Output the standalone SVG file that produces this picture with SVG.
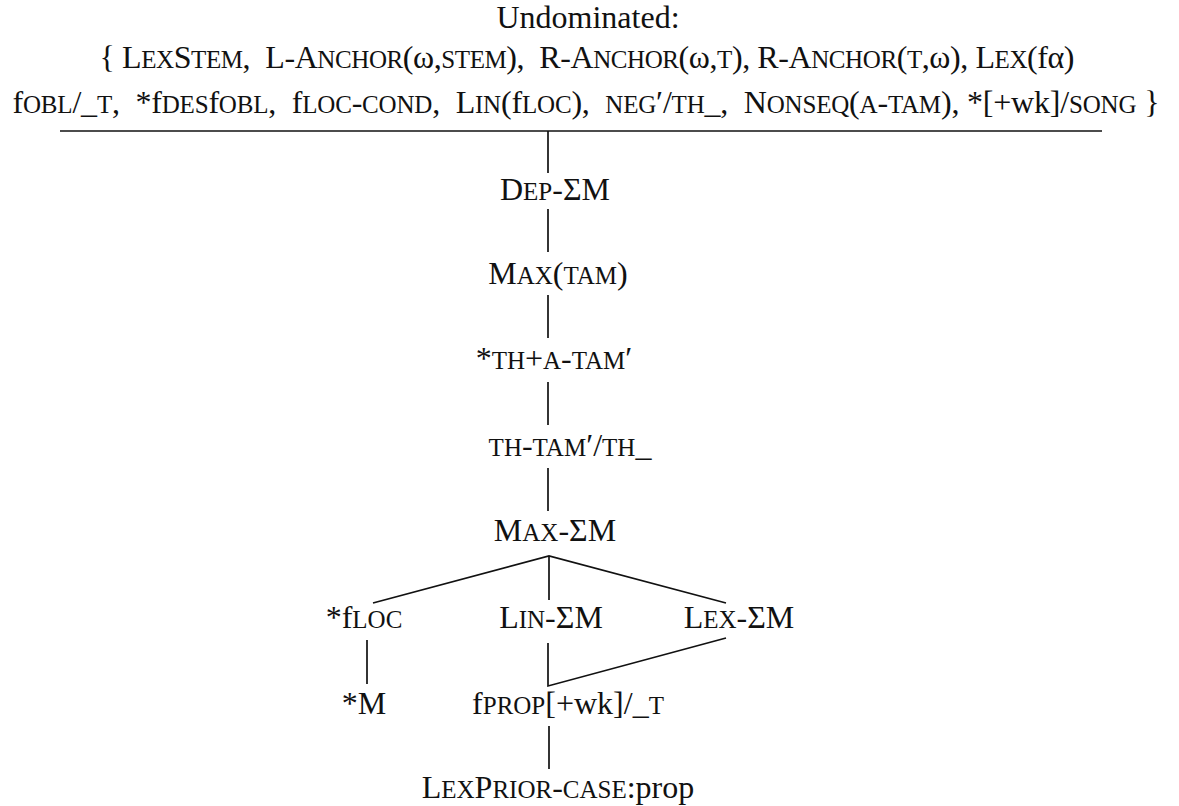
<svg xmlns="http://www.w3.org/2000/svg" width="1179" height="806" viewBox="0 0 1179 806">
<style>
text{font-family:"Liberation Serif","Times New Roman",serif;font-size:32px;fill:#111;white-space:pre}
.c{text-anchor:middle}
.s{font-variant:small-caps;font-size:35px}
.ln{stroke:#111;stroke-width:1.7;fill:none;stroke-linecap:butt}
</style>
<rect width="1179" height="806" fill="#fff"/>
<g id="header">
<text class="c" x="588" y="28">Undominated:</text>
<text class="c" x="587" y="68" textLength="975" lengthAdjust="spacing">{ L<tspan class="s">ex</tspan>S<tspan class="s">tem</tspan>,  L-A<tspan class="s">nchor</tspan>(ω,<tspan class="s">stem</tspan>),  R-A<tspan class="s">nchor</tspan>(ω,<tspan class="s">t</tspan>), R-A<tspan class="s">nchor</tspan>(<tspan class="s">t</tspan>,ω), L<tspan class="s">ex</tspan>(fα)</text>
<text class="c" x="586" y="113" textLength="1147" lengthAdjust="spacing">f<tspan class="s">obl</tspan>/_<tspan class="s">t</tspan>,  *f<tspan class="s">des</tspan>f<tspan class="s">obl</tspan>,  f<tspan class="s">loc</tspan>-<tspan class="s">cond</tspan>,  L<tspan class="s">in</tspan>(f<tspan class="s">loc</tspan>),  <tspan class="s">neg</tspan>′/<tspan class="s">th</tspan>_,  N<tspan class="s">onseq</tspan>(<tspan class="s">a</tspan>-<tspan class="s">tam</tspan>), *[+wk]/<tspan class="s">song</tspan> }</text>
</g>
<g id="connectors">
<line class="ln" x1="60" y1="131" x2="1102" y2="131"/>
<line class="ln" x1="548" y1="131" x2="548" y2="173"/>
<line class="ln" x1="548" y1="209" x2="548" y2="252"/>
<line class="ln" x1="548" y1="295" x2="548" y2="338"/>
<line class="ln" x1="548" y1="382" x2="548" y2="425"/>
<line class="ln" x1="548" y1="468" x2="548" y2="511"/>
<polyline class="ln" points="373,603 549,556 726,603"/>
<line class="ln" x1="549" y1="556" x2="549" y2="600"/>
<line class="ln" x1="367" y1="640" x2="367" y2="684"/>
<polyline class="ln" points="548,643 548,686 726,638"/>
<line class="ln" x1="549" y1="726" x2="549" y2="769"/>
</g>
<g id="n-dep"><text class="c" x="555" y="200">D<tspan class="s">ep</tspan>-ΣM</text></g>
<g id="n-maxtam"><text class="c" x="558" y="284">M<tspan class="s">ax</tspan>(<tspan class="s">tam</tspan>)</text></g>
<g id="n-thatam"><text class="c" x="554" y="369">*<tspan class="s">th</tspan>+<tspan class="s">a</tspan>-<tspan class="s">tam</tspan>′</text></g>
<g id="n-thtam"><text class="c" x="570" y="456"><tspan class="s">th</tspan>-<tspan class="s">tam</tspan>′/<tspan class="s">th</tspan>_</text></g>
<g id="n-maxsm"><text class="c" x="555" y="541">M<tspan class="s">ax</tspan>-ΣM</text></g>
<g id="n-floc"><text class="c" x="364" y="628">*f<tspan class="s">loc</tspan></text></g>
<g id="n-linsm"><text class="c" x="551" y="628">L<tspan class="s">in</tspan>-ΣM</text></g>
<g id="n-lexsm"><text class="c" x="739" y="628">L<tspan class="s">ex</tspan>-ΣM</text></g>
<g id="n-m"><text class="c" x="364" y="714">*M</text></g>
<g id="n-fprop"><text class="c" x="568" y="714">f<tspan class="s">prop</tspan>[+wk]/_<tspan class="s">t</tspan></text></g>
<g id="n-lexprior"><text class="c" x="558" y="798">L<tspan class="s">ex</tspan>P<tspan class="s">rior</tspan>-<tspan class="s">case</tspan>:prop</text></g>
</svg>
